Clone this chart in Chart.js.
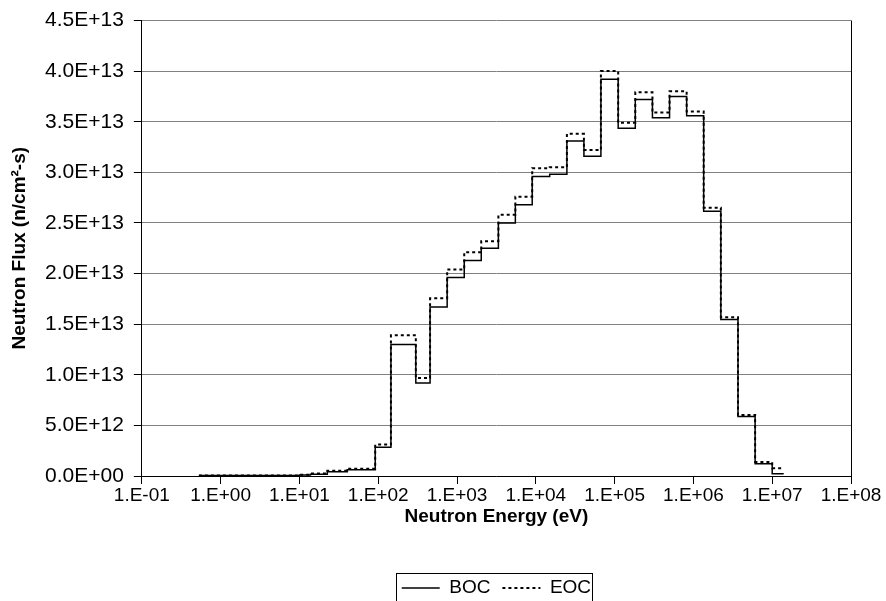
<!DOCTYPE html>
<html>
<head>
<meta charset="utf-8">
<script src="https://cdn.jsdelivr.net/npm/chart.js@4.4.1/dist/chart.umd.min.js"></script>
<style>
    html, body { margin: 0; padding: 0; background: #fff; }
    #wrap { width: 886px; height: 601px; }
</style>
</head>
<body>
<div id="wrap"><canvas id="chart"></canvas></div>
<script>
// Group boundaries (eV), one more than the number of groups
const energyEdges = [0.53, 10, 13.8, 22.6, 40.4, 91.6, 145, 300, 455, 750, 1235, 2030, 3350, 5500, 9000,
    15000, 24800, 40800, 67000, 111000, 183000, 302000, 498000, 821000, 1.35e6, 2.23e6, 3.68e6, 6.07e6, 1.0e7, 1.4e7];

// Flux per group (n/cm2-s)
const fluxBOC = [5e10, 1.0e11, 1.7e11, 4.2e11, 6.2e11, 2.85e12, 1.30e13, 9.2e12, 1.67e13, 1.96e13, 2.13e13, 2.25e13,
    2.50e13, 2.68e13, 2.96e13, 2.98e13, 3.31e13, 3.16e13, 3.92e13, 3.435e13, 3.72e13, 3.54e13, 3.75e13, 3.56e13,
    2.615e13, 1.545e13, 5.87e12, 1.21e12, 2.3e11];
const fluxEOC = [6e10, 1.3e11, 2.5e11, 5.2e11, 7.2e11, 3.1e12, 1.39e13, 9.67e12, 1.755e13, 2.04e13, 2.21e13, 2.32e13,
    2.58e13, 2.76e13, 3.04e13, 3.05e13, 3.38e13, 3.22e13, 4.00e13, 3.49e13, 3.79e13, 3.59e13, 3.80e13, 3.60e13,
    2.65e13, 1.568e13, 6.03e12, 1.38e12, 7.6e11];

const xTicks = [1e-1, 1e0, 1e1, 1e2, 1e3, 1e4, 1e5, 1e6, 1e7, 1e8];
const xTickLabels = ["1.E-01", "1.E+00", "1.E+01", "1.E+02", "1.E+03", "1.E+04", "1.E+05", "1.E+06", "1.E+07", "1.E+08"];
const yTicks = [0, 5e12, 1e13, 1.5e13, 2e13, 2.5e13, 3e13, 3.5e13, 4e13, 4.5e13];
const yTickLabels = ["0.0E+00", "5.0E+12", "1.0E+13", "1.5E+13", "2.0E+13", "2.5E+13", "3.0E+13", "3.5E+13", "4.0E+13", "4.5E+13"];

// Turn group values into step points
const toSteps = (vals) => {
    const pts = vals.map((v, i) => ({ x: energyEdges[i], y: v }));
    pts.push({ x: energyEdges[vals.length], y: vals[vals.length - 1] });
    return pts;
};

const FONT = "'Liberation Sans', Arial, sans-serif";
Chart.defaults.font.family = FONT;
Chart.defaults.color = "#000";

// Move the legend under the plot centre, then frame it
const framePlugin = {
    id: "frame",
    afterUpdate(chart) {
        const lg = chart.legend, a = chart.chartArea;
        const boxes = lg.legendHitBoxes;
        if (!boxes || !boxes.length) return;
        const first = boxes[0], last = boxes[boxes.length - 1];
        const mid = (first.left + last.left + last.width) / 2;
        const dx = (a.left + a.right) / 2 - mid;
        const dy = 588 - (first.top + first.height / 2);
        lg.left += dx; lg.right += dx; lg.top += dy; lg.bottom += dy;
        for (const b of boxes) { b.left += dx; b.top += dy; }
    },
    afterDraw(chart) {
        const ctx = chart.ctx, a = chart.chartArea;
        ctx.save();
        ctx.strokeStyle = "#000";
        ctx.lineWidth = 1;
        ctx.beginPath();
        ctx.moveTo(Math.round(a.right) + 0.5, a.top);
        ctx.lineTo(Math.round(a.right) + 0.5, a.bottom);
        ctx.stroke();
        const boxes = chart.legend.legendHitBoxes;
        if (boxes && boxes.length) {
            const first = boxes[0], last = boxes[boxes.length - 1];
            const l = Math.round(first.left - 6) + 0.5, r = Math.round(last.left + last.width + 1) + 0.5;
            const t = Math.round(first.top - 6) + 0.5;
            ctx.strokeRect(l, t, r - l, chart.height + 10 - t);
        }
        ctx.restore();
    }
};

new Chart(document.getElementById("chart"), {
    type: "line",
    data: {
        datasets: [
            {
                label: "BOC",
                data: toSteps(fluxBOC),
                borderColor: "#000",
                borderWidth: 1.5,
                stepped: true,
                pointRadius: 0,
                fill: false
            },
            {
                label: "EOC",
                data: toSteps(fluxEOC),
                borderColor: "#000",
                borderWidth: 2,
                borderDash: [3, 3],
                stepped: true,
                pointRadius: 0,
                fill: false
            }
        ]
    },
    options: {
        responsive: true,
        maintainAspectRatio: false,
        animation: false,
        layout: { padding: { top: -2, right: 35, left: 6, bottom: 0 } },
        scales: {
            x: {
                type: "logarithmic",
                min: 0.1,
                max: 1e8,
                afterBuildTicks: (s) => { s.ticks = xTicks.map(v => ({ value: v })); },
                ticks: {
                    autoSkip: false,
                    maxRotation: 0,
                    padding: 2,
                    font: { size: 19, lineHeight: 1 },
                    callback: (v, i) => xTickLabels[i]
                },
                grid: { drawOnChartArea: false, tickLength: 8, tickColor: "#000" },
                border: { color: "#000", width: 1 },
                title: {
                    display: true,
                    text: "Neutron Energy (eV)",
                    font: { size: 19, weight: "bold", lineHeight: 1 },
                    padding: { top: 0, bottom: 34 }
                }
            },
            y: {
                min: 0,
                max: 4.5e13,
                afterBuildTicks: (s) => { s.ticks = yTicks.map(v => ({ value: v })); },
                ticks: {
                    padding: 10,
                    font: { size: 21, lineHeight: 1 },
                    callback: (v, i) => yTickLabels[i]
                },
                grid: { color: "#808080", lineWidth: 1, tickLength: 8, tickColor: "#000" },
                border: { color: "#000", width: 1 },
                title: {
                    display: true,
                    text: "Neutron Flux (n/cm²-s)",
                    font: { size: 19, weight: "bold", lineHeight: 1 },
                    padding: { top: 4, bottom: 6 }
                }
            }
        },
        plugins: {
            legend: {
                position: "bottom",
                labels: {
                    usePointStyle: true,
                    pointStyle: "line",
                    pointStyleWidth: 38,
                    padding: 12,
                    font: { size: 19 },
                    color: "#000",
                    generateLabels: (chart) => {
                        const items = Chart.defaults.plugins.legend.labels.generateLabels(chart);
                        items.forEach((it) => {
                            const ds = chart.data.datasets[it.datasetIndex];
                            it.lineDash = ds.borderDash || [];
                            it.lineWidth = ds.borderWidth;
                            it.strokeStyle = ds.borderColor;
                        });
                        return items;
                    }
                }
            },
            tooltip: { enabled: false }
        }
    },
    plugins: [framePlugin]
});
</script>
</body>
</html>
